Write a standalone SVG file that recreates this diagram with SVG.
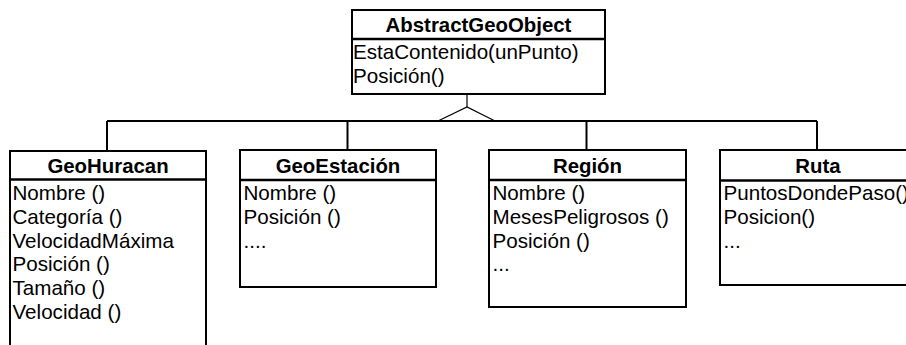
<svg xmlns="http://www.w3.org/2000/svg" width="906" height="345" viewBox="0 0 906 345">
<style>
.box{fill:#fff;stroke:#000;stroke-width:2}
.div{stroke:#000;stroke-width:2.5}
.t{font-family:"Liberation Sans",Arial,sans-serif;font-size:20.6px;fill:#000}
.h{font-family:"Liberation Sans",Arial,sans-serif;font-size:20.4px;font-weight:bold;fill:#000;text-anchor:middle}
.c{fill:none;stroke:#000;stroke-width:2}
.thin{fill:none;stroke:#000;stroke-width:1.2}
</style>
<rect width="906" height="345" fill="#fff"/>
<g id="connectors">
<line class="thin" x1="467" y1="94" x2="467" y2="107"/>
<polyline class="thin" points="438,121 467,107 495,121"/>
<line class="c" x1="107" y1="121" x2="817" y2="121"/>
<line class="c" x1="107" y1="121" x2="107" y2="151"/>
<line class="c" x1="347.5" y1="121" x2="347.5" y2="150"/>
<line class="c" x1="586.5" y1="121" x2="586.5" y2="150"/>
<line class="c" x1="817" y1="121" x2="817" y2="150"/>
</g>
<g id="AbstractGeoObject">
<rect class="box" x="352" y="10" width="253" height="84"/>
<line class="div" x1="352" y1="39" x2="605" y2="39"/>
<text class="h" x="478.5" y="32">AbstractGeoObject</text>
<text class="t" x="353" y="59">EstaContenido(unPunto)</text>
<text class="t" x="353" y="83">Posición()</text>
</g>
<g id="GeoHuracan">
<rect class="box" x="10" y="151" width="196" height="210"/>
<line class="div" x1="10" y1="179.5" x2="206" y2="179.5"/>
<text class="h" x="108" y="173">GeoHuracan</text>
<text class="t" x="12.5" y="200">Nombre ()</text>
<text class="t" x="12.5" y="223.8">Categoría ()</text>
<text class="t" x="12.5" y="247.6">VelocidadMáxima</text>
<text class="t" x="12.5" y="271.4">Posición ()</text>
<text class="t" x="12.5" y="295.2">Tamaño ()</text>
<text class="t" x="12.5" y="319">Velocidad ()</text>
</g>
<g id="GeoEstacion">
<rect class="box" x="240" y="150" width="196" height="137"/>
<line class="div" x1="240" y1="180" x2="436" y2="180"/>
<text class="h" x="338" y="173">GeoEstación</text>
<text class="t" x="243.5" y="200">Nombre ()</text>
<text class="t" x="243.5" y="223.8">Posición ()</text>
<text class="t" x="243.5" y="247.6">....</text>
</g>
<g id="Region">
<rect class="box" x="489" y="150" width="197" height="157"/>
<line class="div" x1="489" y1="180" x2="686" y2="180"/>
<text class="h" x="587.5" y="173">Región</text>
<text class="t" x="492.5" y="200">Nombre ()</text>
<text class="t" x="492.5" y="223.8">MesesPeligrosos ()</text>
<text class="t" x="492.5" y="247.6">Posición ()</text>
<text class="t" x="492.5" y="271.4">...</text>
</g>
<g id="Ruta">
<rect class="box" x="720" y="150" width="196" height="135"/>
<line class="div" x1="720" y1="180.5" x2="916" y2="180.5"/>
<text class="h" x="818" y="173">Ruta</text>
<text class="t" x="723.5" y="200">PuntosDondePaso()</text>
<text class="t" x="723.5" y="223.8">Posicion()</text>
<text class="t" x="723.5" y="247.6">...</text>
</g>
</svg>
